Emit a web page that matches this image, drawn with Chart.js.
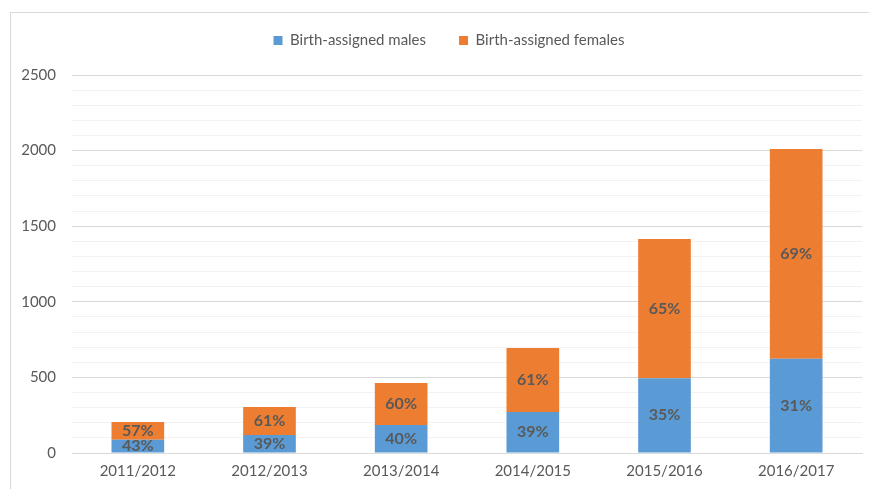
<!DOCTYPE html>
<html>
<head>
<meta charset="utf-8">
<script src="https://cdn.jsdelivr.net/npm/chart.js@4.4.1/dist/chart.umd.min.js"></script>
<style>
    body { margin: 0; background: #fff; }
    #frame { position: absolute; left: 10px; top: 12px; width: 900px; height: 500px; border: 1px solid #d9d9d9; }
    #chart { position: absolute; left: 0; top: 0; }
</style>
</head>
<body>
<div id="frame"></div>
<canvas id="chart" width="869" height="489"></canvas>
<script>
    "use strict";

    // Data
    var years = ["2011/2012", "2012/2013", "2013/2014", "2014/2015", "2015/2016", "2016/2017"];
    var males = [88, 119, 185, 271, 495, 623];
    var females = [117, 185, 278, 423, 920, 1388];
    var malePct = ["43%", "39%", "40%", "39%", "35%", "31%"];
    var femalePct = ["57%", "61%", "60%", "61%", "65%", "69%"];

    var fontFamily = "Lato, 'Open Sans', sans-serif";
    var textColor = "#595959";

    // Percent labels in the middle of each bar segment
    var barLabels = {
        id: "barLabels",
        afterDatasetsDraw: function (chart) {
            var ctx = chart.ctx;
            var labelSets = [malePct, femalePct];
            ctx.save();
            ctx.font = "bold 16px " + fontFamily;
            ctx.fillStyle = textColor;
            ctx.textAlign = "center";
            ctx.textBaseline = "middle";
            chart.data.datasets.forEach(function (ds, i) {
                chart.getDatasetMeta(i).data.forEach(function (bar, j) {
                    var mid = (bar.y + bar.base) / 2;
                    ctx.fillText(labelSets[i][j], bar.x, mid);
                });
            });
            ctx.restore();
        }
    };

    // Extra room under the legend, and nudge it right a bit
    var legendGap = {
        id: "legendGap",
        beforeInit: function (chart) {
            var fit = chart.legend.fit;
            chart.legend.fit = function () {
                fit.bind(chart.legend)();
                this.height += 17;
            };
        },
        afterLayout: function (chart) {
            chart.legend.left += 18;
            chart.legend.right += 18;
        }
    };

    var ctx = document.getElementById("chart").getContext("2d");
    var myChart = new Chart(ctx, {
        type: "bar",
        data: {
            labels: years,
            datasets: [{
                    label: "Birth-assigned males",
                    data: males,
                    backgroundColor: "#5b9bd5"
                },
                {
                    label: "Birth-assigned females",
                    data: females,
                    backgroundColor: "#ed7d31"
                }
            ]
        },
        options: {
            responsive: false,
            animation: false,
            categoryPercentage: 0.8,
            barPercentage: 0.5,
            layout: {
                padding: { top: 0, right: 7, bottom: 0, left: 0 }
            },
            plugins: {
                legend: {
                    position: "top",
                    labels: {
                        color: textColor,
                        font: { family: fontFamily, size: 15 },
                        boxWidth: 9,
                        boxHeight: 9,
                        padding: 33
                    }
                },
                tooltip: { enabled: false }
            },
            scales: {
                x: {
                    stacked: true,
                    grid: { display: false, drawTicks: false },
                    border: { color: "#d9d9d9" },
                    ticks: {
                        color: textColor,
                        font: { family: fontFamily, size: 15 },
                        padding: 9
                    }
                },
                y: {
                    stacked: true,
                    min: 0,
                    max: 2500,
                    afterFit: function (scale) { scale.width = 72; },
                    border: { display: false },
                    grid: {
                        drawTicks: false,
                        color: function (c) {
                            return c.tick.value % 500 === 0 ? "#d9d9d9" : "#f2f2f2";
                        }
                    },
                    ticks: {
                        stepSize: 100,
                        autoSkip: false,
                        color: textColor,
                        padding: 16,
                        font: { family: fontFamily, size: 15 },
                        callback: function (v) { return v % 500 === 0 ? v : ""; }
                    }
                }
            }
        },
        plugins: [barLabels, legendGap]
    });
</script>
</body>
</html>
